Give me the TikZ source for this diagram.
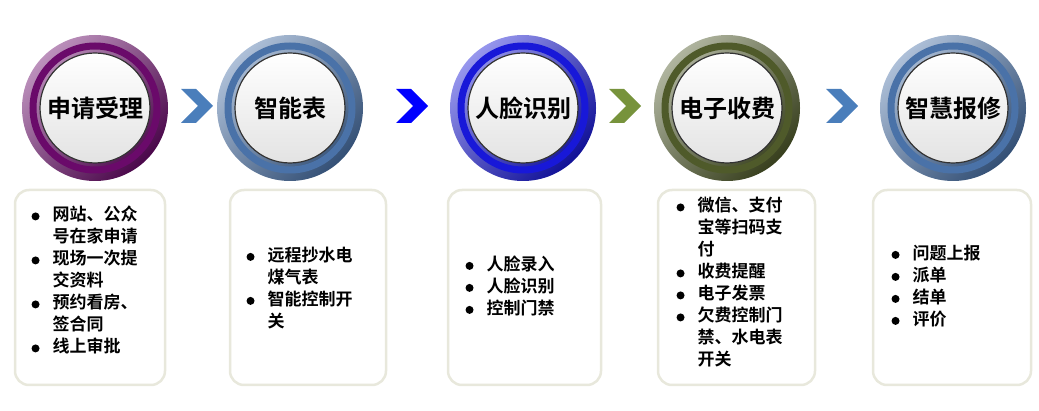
\documentclass[tikz,border=0pt]{standalone}
\usepackage{fontspec}
\newfontfamily\cjk{Noto Sans CJK SC}[BoldFont={* Bold}]
\definecolor{cpur}{HTML}{6A0A6A}
\definecolor{csteel}{HTML}{4A72A8}
\definecolor{cblue}{HTML}{1818D8}
\definecolor{colive}{HTML}{4F5A2A}
\definecolor{chv}{HTML}{4A7EBB}
\definecolor{cgr}{HTML}{77933C}
\definecolor{bord}{HTML}{E8E8DC}
\begin{document}
\begin{tikzpicture}[x=1pt,y=-1pt,
  box/.style={draw=bord,line width=2.5pt,rounded corners=14pt,fill=white},
  ttl/.style={font=\cjk\bfseries\fontsize{24}{26}\selectfont},
  lst/.style={font=\cjk\bfseries\fontsize{17}{22}\selectfont,align=left}]
\useasboundingbox (0,0) rectangle (1039,411);
\newcommand\ring[4]{%
  \shade[right color=#3!45!white,left color=#3!70!black,shading angle=-135] (#1,#2) circle (73);
  \draw[#3,line width=7pt] (#1,#2) circle (62);
  \shade[top color=white,bottom color=gray!22,draw=black!80,line width=1.2pt] (#1,#2) circle (55);
  \node[ttl] (#4) at (#1,#2) {};}
\ring{95}{108}{cpur}{c1}
\ring{290}{108}{csteel}{c2}
\ring{523}{108}{cblue}{c3}
\ring{727}{108}{colive}{c4}
\ring{953}{108}{csteel}{c5}
\node[ttl] at (c1) {申请受理};
\node[ttl] at (c2) {智能表};
\node[ttl] at (c3) {人脸识别};
\node[ttl] at (c4) {电子收费};
\node[ttl] at (c5) {智慧报修};
\newcommand\chevr[2]{\fill[#2] (#1,89) -- (#1+15,89) -- (#1+32,106) -- (#1+15,123) -- (#1,123) -- (#1+17,106) -- cycle;}
\chevr{181}{chv}
\chevr{396}{blue}
\chevr{609}{cgr}
\chevr{826}{chv}
\draw[box] (15,190) rectangle (165,385);
\draw[box] (230,190) rectangle (386,385);
\draw[box] (448,190) rectangle (601,385);
\draw[box] (658,190) rectangle (815,385);
\draw[box] (873,190) rectangle (1031,385);
\newcommand\bl{\tikz[baseline=-4.5pt]\fill (0,0) circle (4pt);}
\node[lst,anchor=north west] (l1) at (28,202) {\begin{tabular}{@{}l@{\hspace{13pt}}l@{}}
\bl & 网站、公众\\ & 号在家申请\\ \bl & 现场一次提\\ & 交资料\\ \bl & 预约看房、\\ & 签合同\\ \bl & 线上审批\end{tabular}};
\node[lst,anchor=west] (l2) at (243,290) {\begin{tabular}{@{}l@{\hspace{13pt}}l@{}}
\bl & 远程抄水电\\ & 煤气表\\ \bl & 智能控制开\\ & 关\end{tabular}};
\node[lst,anchor=west] (l3) at (462,288) {\begin{tabular}{@{}l@{\hspace{13pt}}l@{}}
\bl & 人脸录入\\ \bl & 人脸识别\\ \bl & 控制门禁\end{tabular}};
\node[lst,anchor=north west] (l4) at (673,193) {\begin{tabular}{@{}l@{\hspace{13pt}}l@{}}
\bl & 微信、支付\\ & 宝等扫码支\\ & 付\\ \bl & 收费提醒\\ \bl & 电子发票\\ \bl & 欠费控制门\\ & 禁、水电表\\ & 开关\end{tabular}};
\node[lst,anchor=west] (l5) at (888,288) {\begin{tabular}{@{}l@{\hspace{13pt}}l@{}}
\bl & 问题上报\\ \bl & 派单\\ \bl & 结单\\ \bl & 评价\end{tabular}};
\end{tikzpicture}
\end{document}
